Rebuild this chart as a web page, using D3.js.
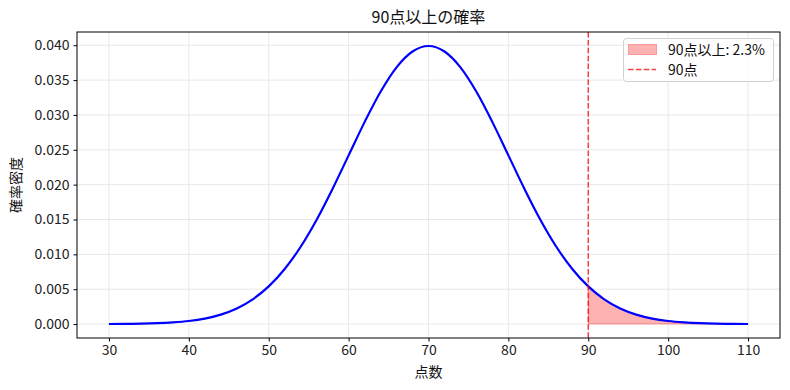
<!DOCTYPE html>
<html><head><meta charset="utf-8">
<script src="https://cdn.jsdelivr.net/npm/d3@7"></script>
<style>body{margin:0;background:#fff;}svg{display:block;font-family:"Noto Sans CJK JP","Noto Sans",sans-serif;}</style>
</head><body><svg id="c" width="790" height="390"></svg>
<script>
const scoreX = [30,32,34,36,38,40,42,44,46,48,50,52,54,56,58,60,62,64,66,68,70,72,74,76,78,80,82,84,86,88,90,92,94,96,98,100,102,104,106,108,110];
const densityY = [0.00001,0.00003,0.00006,0.00012,0.00024,0.00044,0.00079,0.00136,0.00224,0.00355,0.00540,0.00790,0.01109,0.01497,0.01942,0.02420,0.02897,0.03332,0.03683,0.03910,0.03989,0.03910,0.03683,0.03332,0.02897,0.02420,0.01942,0.01497,0.01109,0.00790,0.00540,0.00355,0.00224,0.00136,0.00079,0.00044,0.00024,0.00012,0.00006,0.00003,0.00001];
const xTicks = [30,40,50,60,70,80,90,100,110];
const yTicks = [0,0.005,0.010,0.015,0.020,0.025,0.030,0.035,0.040];
const threshold = 90;
const titleText = "90点以上の確率";
const xLabel = "点数";
const yLabel = "確率密度";
const legendLabels = ["90点以上: 2.3%","90点"];

const svg = d3.select("#c");
const L=77,R=780,T=32,B=338;
const x = d3.scaleLinear().domain([26,114]).range([L,R]);
const y = d3.scaleLinear().domain([-0.002,0.0419]).range([B,T]);
const data = scoreX.map((v,i)=>({x:v,y:densityY[i]}));

// grid
const g = svg.append("g");
g.selectAll(".gx").data(xTicks).enter().append("line")
 .attr("x1",d=>x(d)).attr("x2",d=>x(d)).attr("y1",T).attr("y2",B)
 .attr("stroke","#e3e3e3").attr("stroke-width",0.8);
g.selectAll(".gy").data(yTicks).enter().append("line")
 .attr("y1",d=>y(d)).attr("y2",d=>y(d)).attr("x1",L).attr("x2",R)
 .attr("stroke","#e3e3e3").attr("stroke-width",0.8);

// fill
const tail = data.filter(d=>d.x>=threshold);
svg.append("path").datum(tail)
 .attr("d",d3.area().x(d=>x(d.x)).y0(y(0)).y1(d=>y(d.y)).curve(d3.curveMonotoneX))
 .attr("fill","rgba(255,0,0,0.3)").attr("stroke","rgba(255,0,0,0.3)").attr("stroke-width",1);

// line
svg.append("path").datum(data)
 .attr("d",d3.line().x(d=>x(d.x)).y(d=>y(d.y)).curve(d3.curveMonotoneX))
 .attr("fill","none").attr("stroke","#0000ff").attr("stroke-width",2.2);

// vline
svg.append("line").attr("x1",x(threshold)).attr("x2",x(threshold)).attr("y1",T).attr("y2",B)
 .attr("stroke","#ff0000").attr("stroke-opacity",0.75).attr("stroke-width",1.5).attr("stroke-dasharray","5.5,2.4");

// axes
const xa = svg.append("g").attr("transform",`translate(0,${B})`)
 .call(d3.axisBottom(x).tickValues(xTicks).tickFormat(d3.format("d")).tickSize(3.5).tickPadding(4));
const ya = svg.append("g").attr("transform",`translate(${L},0)`)
 .call(d3.axisLeft(y).tickValues(yTicks).tickFormat(d3.format(".3f")).tickSize(3.5).tickPadding(4));
[xa,ya].forEach(a=>{a.select(".domain").remove();a.selectAll("text").attr("font-size","14px").attr("fill","#222").style("font-family","'Noto Sans CJK JP',sans-serif");a.selectAll("line").attr("stroke","#000");});
svg.append("rect").attr("x",L).attr("y",T).attr("width",R-L).attr("height",B-T)
 .attr("fill","none").attr("stroke","#000").attr("stroke-width",1);

// labels
svg.append("text").attr("x",(L+R)/2).attr("y",23).attr("text-anchor","middle").attr("font-size","16px").attr("fill","#111").text(titleText);
svg.append("text").attr("x",(L+R)/2).attr("y",377).attr("text-anchor","middle").attr("font-size","14px").attr("fill","#111").text(xLabel);
svg.append("text").attr("transform",`translate(21,${(T+B)/2}) rotate(-90)`).attr("text-anchor","middle").attr("font-size","14px").attr("fill","#111").text(yLabel);

// legend
const lg = svg.append("g");
lg.append("rect").attr("x",623.5).attr("y",38.5).attr("width",150).attr("height",43).attr("rx",3)
 .attr("fill","rgba(255,255,255,0.8)").attr("stroke","#d0d0d0");
lg.append("rect").attr("x",628.5).attr("y",44.5).attr("width",28).attr("height",10)
 .attr("fill","rgba(255,0,0,0.3)").attr("stroke","rgba(255,0,0,0.3)");
lg.append("line").attr("x1",628).attr("x2",656).attr("y1",69.5).attr("y2",69.5)
 .attr("stroke","#ff0000").attr("stroke-opacity",0.75).attr("stroke-width",1.5).attr("stroke-dasharray","5.5,2.4");
lg.append("text").attr("x",668).attr("y",54.5).attr("font-size","14px").attr("fill","#111").text(legendLabels[0]);
lg.append("text").attr("x",668).attr("y",74.5).attr("font-size","14px").attr("fill","#111").text(legendLabels[1]);
</script></body></html>
